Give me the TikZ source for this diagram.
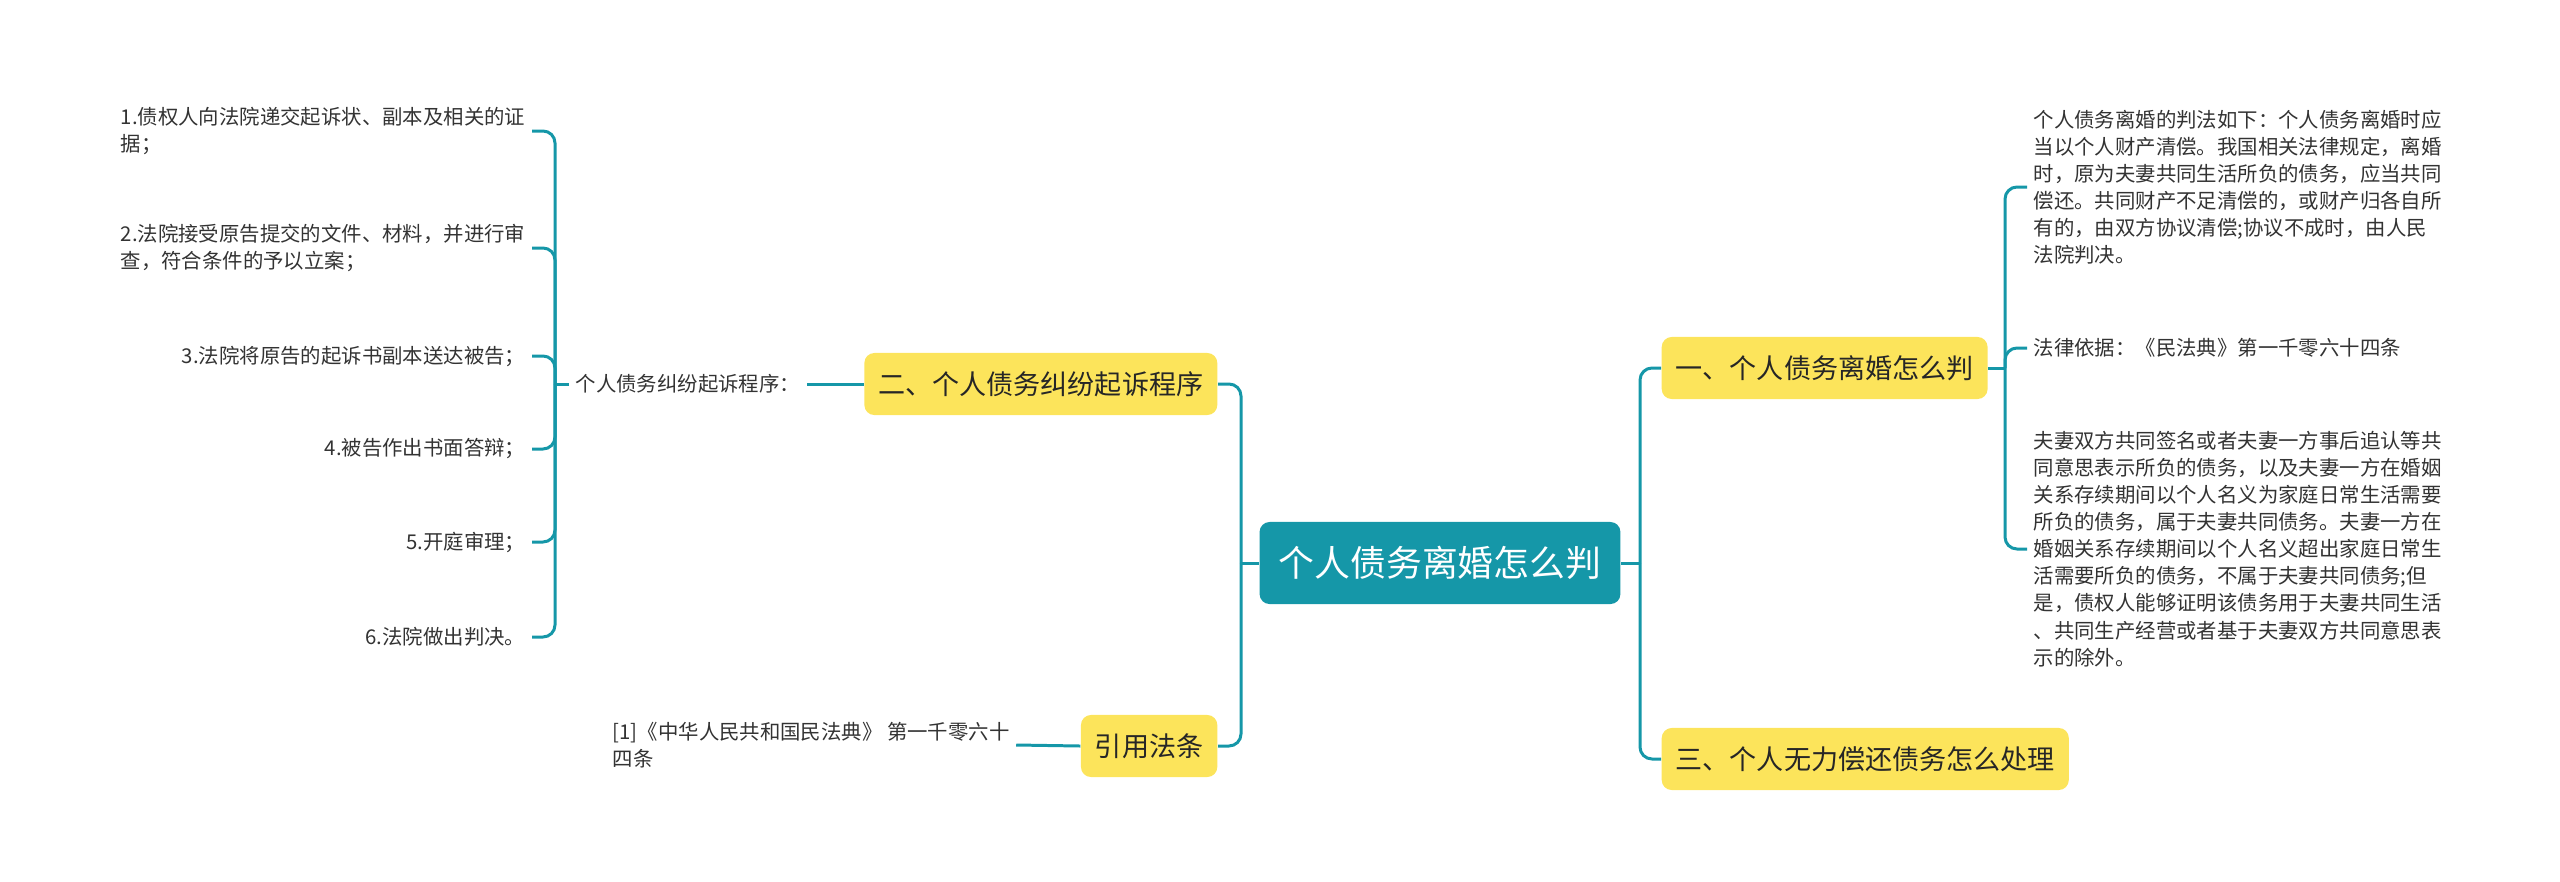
\documentclass[tikz,border=0pt]{standalone}
\usepackage{fontspec}
\newfontfamily\cjkfont{Noto Sans CJK SC}
\usepackage{xcolor}
\usepackage{tikz}

\definecolor{mapteal}{HTML}{1597A8}
\definecolor{mapyellow}{HTML}{FCE45B}
\definecolor{maptext}{HTML}{333333}

\begin{document}
\begin{tikzpicture}[x=0.01cm, y=-0.01cm,
		root/.style={fill=mapteal, rounded corners=0.1cm, text=white, font={\cjkfont\fontsize{10.2}{12}\selectfont}, minimum height=0.82cm, inner xsep=0.19cm},
		topic/.style={fill=mapyellow, rounded corners=0.1cm, text=black!85, font={\cjkfont\fontsize{7.7}{9}\selectfont}, minimum height=0.62cm, inner xsep=0.14cm},
		leaf/.style={text=maptext, font={\cjkfont\fontsize{5.8}{7.7}\selectfont}, inner sep=0.06cm},
		link/.style={draw=mapteal, line width=0.85pt, rounded corners=0.12cm}]
			\useasboundingbox (0,0) rectangle (2560,881);

			\node[root] (root) at (1440,563) {个人债务离婚怎么判};

			\node[topic, anchor=east] (t2) at (1218,384) {二、个人债务纠纷起诉程序};
			\node[topic, anchor=east] (t4) at (1218,746) {引用法条};
			\node[topic, anchor=west] (t1) at (1661,368) {一、个人债务离婚怎么判};
			\node[topic, anchor=west] (t3) at (1661,759) {三、个人无力偿还债务怎么处理};

			\node[leaf, anchor=west] (p2) at (569,384) {个人债务纠纷起诉程序：};
			\node[leaf, anchor=east, align=left] (s1) at (532,131) {1.债权人向法院递交起诉状、副本及相关的证\\据；};
			\node[leaf, anchor=east, align=left] (s2) at (532,248) {2.法院接受原告提交的文件、材料，并进行审\\查，符合条件的予以立案；};
			\node[leaf, anchor=east] (s3) at (532,356) {3.法院将原告的起诉书副本送达被告；};
			\node[leaf, anchor=east] (s4) at (532,449) {4.被告作出书面答辩；};
			\node[leaf, anchor=east] (s5) at (532,542) {5.开庭审理；};
			\node[leaf, anchor=east] (s6) at (532,637) {6.法院做出判决。};

			\node[leaf, anchor=west, align=left] (c1) at (606,745) {[1]《中华人民共和国民法典》 第一千零六十\\四条};

			\node[leaf, anchor=west, align=left] (r1) at (2027,187) {个人债务离婚的判法如下：个人债务离婚时应\\当以个人财产清偿。我国相关法律规定，离婚\\时，原为夫妻共同生活所负的债务，应当共同\\偿还。共同财产不足清偿的，或财产归各自所\\有的，由双方协议清偿;协议不成时，由人民\\法院判决。};
			\node[leaf, anchor=west] (r2) at (2027,348) {法律依据：《民法典》第一千零六十四条};
			\node[leaf, anchor=west, align=left] (r3) at (2027,549) {夫妻双方共同签名或者夫妻一方事后追认等共\\同意思表示所负的债务，以及夫妻一方在婚姻\\关系存续期间以个人名义为家庭日常生活需要\\所负的债务，属于夫妻共同债务。夫妻一方在\\婚姻关系存续期间以个人名义超出家庭日常生\\活需要所负的债务，不属于夫妻共同债务;但\\是，债权人能够证明该债务用于夫妻共同生活\\、共同生产经营或者基于夫妻双方共同意思表\\示的除外。};

			\coordinate (lj) at (1241,563);
			\coordinate (lj2) at (555,384);
			\coordinate (rj) at (1640,563);
			\coordinate (rj1) at (2005,368);

			\draw[link] (root.west) to (lj);
			\draw[link] (t2.east) -| (lj);
			\draw[link] (t4.east) -| (lj);
			\draw[link] (t2.west) to (p2.east);
			\draw[link] (p2.west) to (lj2);
			\draw[link] (s1.east) -| (lj2);
			\draw[link] (s2.east) -| (lj2);
			\draw[link] (s3.east) -| (lj2);
			\draw[link] (s4.east) -| (lj2);
			\draw[link] (s5.east) -| (lj2);
			\draw[link] (s6.east) -| (lj2);
			\draw[link] (t4.west) to (c1.east);

			\draw[link] (root.east) to (rj);
			\draw[link] (t1.west) -| (rj);
			\draw[link] (t3.west) -| (rj);
			\draw[link] (t1.east) to (rj1);
			\draw[link] (r1.west) -| (rj1);
			\draw[link] (r2.west) -| (rj1);
			\draw[link] (r3.west) -| (rj1);
		\end{tikzpicture}
\end{document}
